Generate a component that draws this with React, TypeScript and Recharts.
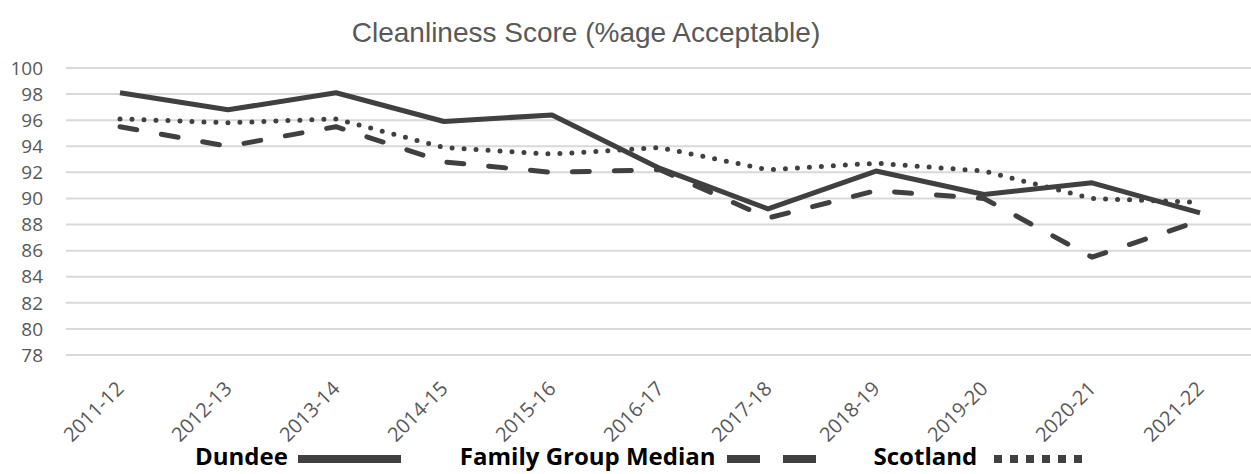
import { CartesianGrid, Legend, Line, LineChart, XAxis, YAxis } from 'recharts';

const categories = ['2011-12', '2012-13', '2013-14', '2014-15', '2015-16', '2016-17', '2017-18', '2018-19', '2019-20', '2020-21', '2021-22'];
const dundee = [98.1, 96.8, 98.1, 95.9, 96.4, 92.3, 89.2, 92.1, 90.3, 91.2, 88.9];
const familyGroupMedian = [95.5, 94.0, 95.5, 92.8, 92.0, 92.2, 88.5, 90.6, 90.0, 85.5, 88.3];
const scotland = [96.1, 95.8, 96.1, 93.9, 93.4, 93.9, 92.2, 92.7, 92.1, 90.0, 89.7];
const yTicks = [78, 80, 82, 84, 86, 88, 90, 92, 94, 96, 98, 100];

const data = categories.map((year, i) => ({
  year,
  dundee: dundee[i],
  family: familyGroupMedian[i],
  scotland: scotland[i],
}));

const LINE = '#404040';
const GREY_TEXT = '#595959';

// rotated category labels, like the spreadsheet export
// eslint-disable-next-line @typescript-eslint/no-explicit-any
function YearTick({ x, y, payload }: any) {
  const ax = x + 5;
  const ay = y + 35;
  return (
    <text
      x={ax}
      y={ay}
      textAnchor='end'
      transform={`rotate(-45 ${ax} ${ay})`}
      fill={GREY_TEXT}
      fontFamily='Open Sans'
      fontSize={20}
    >
      {payload.value}
    </text>
  );
}

function Sample({ kind }: { kind: string }) {
  if (kind === 'dundee') {
    return (
      <svg width={103} height={8} style={{ marginLeft: 10, position: 'relative', top: 3 }}>
        <rect x={0} y={0} width={103} height={8} fill={LINE} />
      </svg>
    );
  }
  if (kind === 'family') {
    return (
      <svg width={89} height={8} style={{ marginLeft: 11, position: 'relative', top: 3 }}>
        <rect x={0} y={0} width={33} height={8} fill={LINE} />
        <rect x={56} y={0} width={33} height={8} fill={LINE} />
      </svg>
    );
  }
  return (
    <svg width={88} height={8} style={{ marginLeft: 17, position: 'relative', top: 3 }}>
      {[0, 16, 32, 48, 64, 80].map((dx) => (
        <rect key={dx} x={dx} y={0} width={8} height={8} fill={LINE} />
      ))}
    </svg>
  );
}

// eslint-disable-next-line @typescript-eslint/no-explicit-any
function LegendContent({ payload }: any) {
  const gaps: Record<string, number> = { dundee: 0, family: 59, scotland: 58 };
  return (
    <div
      style={{
        display: 'flex',
        alignItems: 'center',
        height: 40,
        paddingTop: 3,
        boxSizing: 'border-box',
        paddingLeft: 195,
        fontFamily: 'Open Sans',
        fontWeight: 700,
        fontSize: 24,
        color: '#000',
      }}
    >
      {/* eslint-disable-next-line @typescript-eslint/no-explicit-any */}
      {(payload || []).map((entry: any) => (
        <div key={entry.dataKey} style={{ display: 'flex', alignItems: 'center', marginLeft: gaps[entry.dataKey] }}>
          <span>{entry.value}</span>
          <Sample kind={entry.dataKey} />
        </div>
      ))}
    </div>
  );
}

export default function App() {
  return (
    <div style={{ position: 'absolute', left: 0, top: 0, width: 1251, height: 474, overflow: 'hidden', background: '#fff' }}>
      <div
        style={{
          position: 'absolute',
          left: 0,
          top: 19,
          width: 1172,
          textAlign: 'center',
          fontFamily: 'Liberation Sans',
          fontSize: 28,
          lineHeight: 1,
          color: GREY_TEXT,
        }}
      >
        Cleanliness Score (%age Acceptable)
      </div>
      <LineChart width={1254} height={474} data={data} margin={{ top: 68, right: 0, left: 0, bottom: 0 }}>
        <CartesianGrid vertical={false} stroke='#d9d9d9' strokeWidth={2} />
        <XAxis
          dataKey='year'
          axisLine={false}
          tickLine={false}
          tickSize={0}
          tickMargin={0}
          interval={0}
          height={79}
          padding={{ left: 54, right: 54 }}
          tick={<YearTick />}
        />
        <YAxis
          domain={[78, 100]}
          ticks={yTicks}
          interval={0}
          width={66}
          axisLine={false}
          tickLine={false}
          tickSize={0}
          tickMargin={23}
          tick={{ fill: GREY_TEXT, fontFamily: 'Open Sans', fontSize: 19 }}
        />
        <Legend verticalAlign='bottom' height={40} wrapperStyle={{ left: 0, bottom: 0, width: 1251 }} content={<LegendContent />} />
        <Line
          name='Dundee'
          dataKey='dundee'
          type='linear'
          stroke={LINE}
          strokeWidth={5}
          strokeLinejoin='round'
          dot={false}
          activeDot={false}
          isAnimationActive={false}
        />
        <Line
          name='Family Group Median'
          dataKey='family'
          type='linear'
          stroke={LINE}
          strokeWidth={5}
          strokeDasharray='17 25'
          strokeLinecap='round'
          strokeLinejoin='round'
          dot={false}
          activeDot={false}
          isAnimationActive={false}
        />
        <Line
          name='Scotland'
          dataKey='scotland'
          type='linear'
          stroke={LINE}
          strokeWidth={5}
          strokeDasharray='0 12'
          strokeLinecap='round'
          strokeLinejoin='round'
          dot={false}
          activeDot={false}
          isAnimationActive={false}
        />
      </LineChart>
    </div>
  );
}
